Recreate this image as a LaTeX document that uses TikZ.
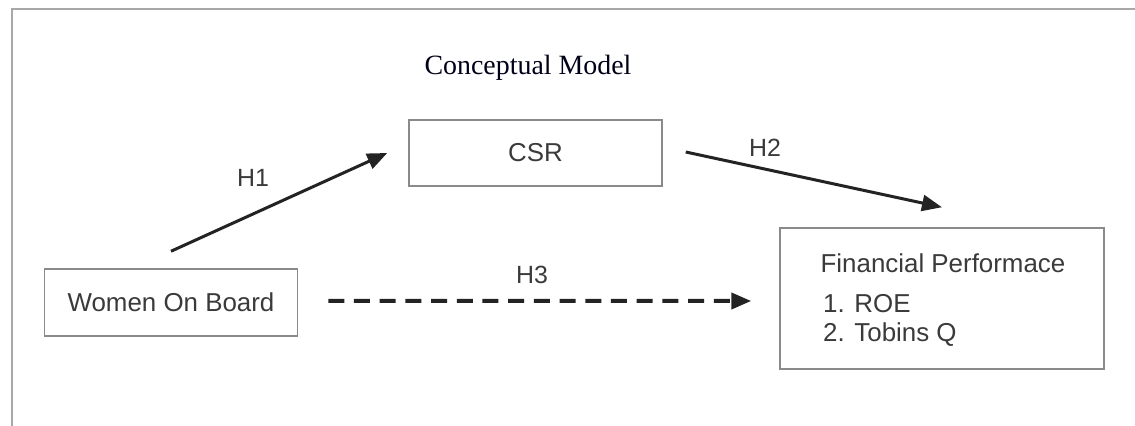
\documentclass[tikz,border=0pt]{standalone}
\usepackage{fontspec}
\setmainfont{Liberation Sans}
\newfontfamily\titlefont{Liberation Serif}
\usetikzlibrary{arrows.meta}
\definecolor{boxcol}{HTML}{8A8A8A}
\definecolor{textcol}{HTML}{3A3A3A}
\definecolor{arrcol}{HTML}{232323}
\definecolor{framecol}{HTML}{A8A8A8}
\tikzset{
  blockbox/.style={draw=boxcol,line width=1.5bp,text=textcol,inner sep=0pt},
  lbl/.style={text=textcol,inner sep=0pt,font=\fontsize{25}{28}\selectfont},
  arr/.style={-{Triangle[length=20bp,width=16bp]},line width=3bp,draw=arrcol},
  dasharr/.style={arr,line width=4bp,dash pattern=on 16bp off 9.7bp},
}
\begin{document}
\begin{tikzpicture}[font=\fontsize{26}{29}\selectfont]
  \useasboundingbox (0bp,0bp) rectangle (1135bp,426bp);
  % frame
  \draw[framecol,line width=2bp] (12bp,-10bp) -- (12bp,417bp) -- (1145bp,417bp);
  % Node: title
  \node[text=black!90!blue] (title) at (528bp,358bp) {\titlefont\fontsize{28}{32}\selectfont Conceptual Model};
  % Node: csr
  \node[blockbox,minimum width=253bp,minimum height=66bp] (csr) at (535.5bp,273bp) {CSR};
  % Node: wob
  \node[blockbox,minimum width=253bp,minimum height=67bp] (wob) at (171bp,123.5bp) {Women On Board};
  % Node: fp
  \node[blockbox,minimum width=324bp,minimum height=141bp] (fp) at (942bp,127.5bp) {};
  \node[text=textcol] (fphead) at (943bp,163bp) {Financial Performace};
  \node[text=textcol,anchor=west,align=left,inner sep=0pt] (fplist) at (823bp,105.5bp) {1. ROE\\2. Tobins Q};
  % Edge: wob -> csr
  \draw[arr] ([yshift=17bp]wob.north) -- ([xshift=-21bp]csr.west);
  \node[lbl] (hone) at (253bp,248bp) {H1};
  % Edge: csr -> fp
  \draw[arr] ([xshift=23bp,yshift=1bp]csr.east) -- ([yshift=20bp]fp.north);
  \node[lbl] (htwo) at (765bp,278bp) {H2};
  % Edge: wob -> fp
  \draw[dasharr] ([xshift=30bp,yshift=1.5bp]wob.east) -- ([xshift=-28bp,yshift=-2.5bp]fp.west);
  \node[lbl] (hthree) at (532bp,151bp) {H3};
\end{tikzpicture}
\end{document}
